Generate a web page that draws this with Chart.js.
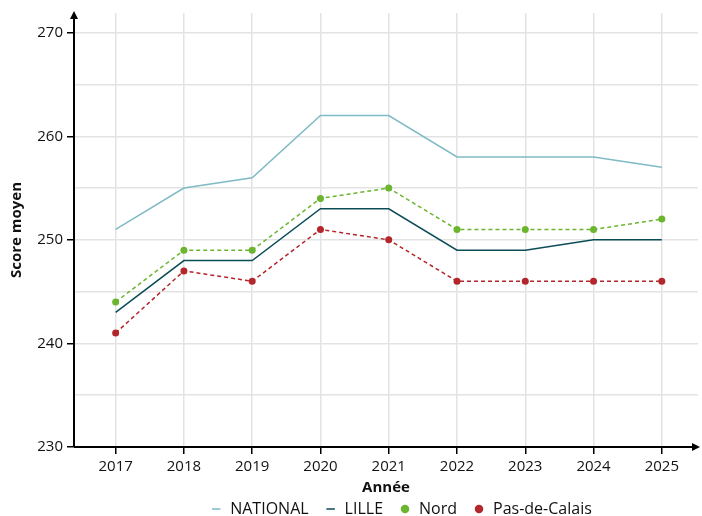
<!DOCTYPE html>
<html>
<head>
<meta charset="utf-8">
<script src="https://cdn.jsdelivr.net/npm/chart.js@4/dist/chart.umd.min.js"></script>
<style>
  html, body { margin: 0; padding: 0; background: #fff; }
  #wrap { width: 702px; height: 516px; }
</style>
</head>
<body>
<div id="wrap"><canvas id="scoreChart"></canvas></div>
<script>
// données
const years = [2017, 2018, 2019, 2020, 2021, 2022, 2023, 2024, 2025];
const national = [251, 255, 256, 262, 262, 258, 258, 258, 257];
const lille = [243, 248, 248, 253, 253, 249, 249, 250, 250];
const nord = [244, 249, 249, 254, 255, 251, 251, 251, 252];
const pasDeCalais = [241, 247, 246, 251, 250, 246, 246, 246, 246];
const yTicks = [230, 235, 240, 245, 250, 255, 260, 265, 270];

const FONT = "'Open Sans', sans-serif";
const pts = arr => arr.map((v, i) => ({ x: years[i], y: v }));

// flèches des axes
const axisArrows = {
  id: 'axisArrows',
  afterDraw(chart) {
    const { ctx, chartArea: a } = chart;
    ctx.save();
    ctx.strokeStyle = '#000';
    ctx.fillStyle = '#000';
    ctx.lineWidth = 2;
    ctx.beginPath();
    ctx.moveTo(a.left, a.bottom);
    ctx.lineTo(a.left, a.top + 4);
    ctx.moveTo(a.left, a.bottom);
    ctx.lineTo(a.right - 4, a.bottom);
    ctx.stroke();
    ctx.beginPath();
    ctx.moveTo(a.left, a.top - 2);
    ctx.lineTo(a.left - 4, a.top + 6);
    ctx.lineTo(a.left + 4, a.top + 6);
    ctx.closePath();
    ctx.fill();
    ctx.beginPath();
    ctx.moveTo(a.right + 2, a.bottom);
    ctx.lineTo(a.right - 6, a.bottom - 4);
    ctx.lineTo(a.right - 6, a.bottom + 4);
    ctx.closePath();
    ctx.fill();
    ctx.restore();
  }
};

// remonter la légende sous le titre de l'axe
const legendShift = {
  id: 'legendShift',
  afterLayout(chart) {
    chart.legend.top = 485;
    chart.legend.bottom = 516;
    chart.legend.left = 100;
    chart.legend.right = 702;
  }
};

const chart = new Chart(document.getElementById('scoreChart'), {
  type: 'line',
  data: {
    datasets: [
      {
        label: 'NATIONAL',
        data: pts(national),
        borderColor: '#7fbac6',
        backgroundColor: '#7fbac6',
        borderWidth: 1.5,
        pointRadius: 0,
        pointStyle: 'line',
        tension: 0
      },
      {
        label: 'LILLE',
        data: pts(lille),
        borderColor: '#0b4d57',
        backgroundColor: '#0b4d57',
        borderWidth: 1.5,
        pointRadius: 0,
        pointStyle: 'line',
        tension: 0
      },
      {
        label: 'Nord',
        data: pts(nord),
        borderColor: '#6cb52f',
        backgroundColor: '#6cb52f',
        borderWidth: 1.5,
        borderDash: [4, 3],
        pointRadius: 3.5,
        pointStyle: 'circle',
        pointBorderWidth: 0,
        tension: 0
      },
      {
        label: 'Pas-de-Calais',
        data: pts(pasDeCalais),
        borderColor: '#b3262b',
        backgroundColor: '#b3262b',
        borderWidth: 1.5,
        borderDash: [4, 3],
        pointRadius: 3.5,
        pointStyle: 'circle',
        pointBorderWidth: 0,
        tension: 0
      }
    ]
  },
  options: {
    responsive: true,
    maintainAspectRatio: false,
    animation: false,
    layout: { padding: { top: 12, right: 2, left: 8, bottom: 0 } },
    scales: {
      x: {
        type: 'linear',
        min: 2016.39,
        max: 2025.53,
        afterBuildTicks: s => { s.ticks = years.map(v => ({ value: v })); },
        afterFit: s => { s.height = 50; },
        border: { display: false },
        grid: {
          color: '#e3e3e3',
          lineWidth: 1.5,
          tickLength: 7,
          tickColor: '#000',
          tickWidth: 1.5
        },
        ticks: {
          color: '#111',
          font: { family: FONT, size: 15 },
          padding: 4,
          maxRotation: 0,
          callback: v => String(v)
        },
        title: {
          display: true,
          text: 'Année',
          color: '#111',
          font: { family: FONT, size: 15, weight: 'bold' },
          padding: { top: 1, bottom: 0 }
        }
      },
      y: {
        min: 230,
        max: 271.9,
        afterBuildTicks: s => { s.ticks = yTicks.map(v => ({ value: v })); },
        afterFit: s => { s.width = 66; },
        border: { display: false },
        grid: {
          color: '#e3e3e3',
          lineWidth: 1.5,
          tickLength: 7,
          tickColor: c => (c.tick && c.tick.value % 10 === 0) ? '#000' : 'rgba(0,0,0,0)',
          tickWidth: 1.5
        },
        ticks: {
          color: '#111',
          font: { family: FONT, size: 15 },
          padding: 4,
          callback: v => (v % 10 === 0 ? String(v) : '')
        },
        title: {
          display: true,
          text: 'Score moyen',
          color: '#111',
          font: { family: FONT, size: 15, weight: 'bold' },
          padding: { top: 0, bottom: 3 }
        }
      }
    },
    plugins: {
      legend: {
        position: 'bottom',
        labels: {
          usePointStyle: true,
          boxWidth: 12,
          boxHeight: 6,
          padding: 16,
          color: '#111',
          font: { family: FONT, size: 16 }
        }
      },
      tooltip: { enabled: false }
    }
  },
  plugins: [axisArrows, legendShift]
});

// légende plus compacte en hauteur
const legendFit = chart.legend.fit.bind(chart.legend);
chart.legend.fit = function () {
  legendFit();
  this.height = 19;
};
chart.update();
</script>
</body>
</html>
